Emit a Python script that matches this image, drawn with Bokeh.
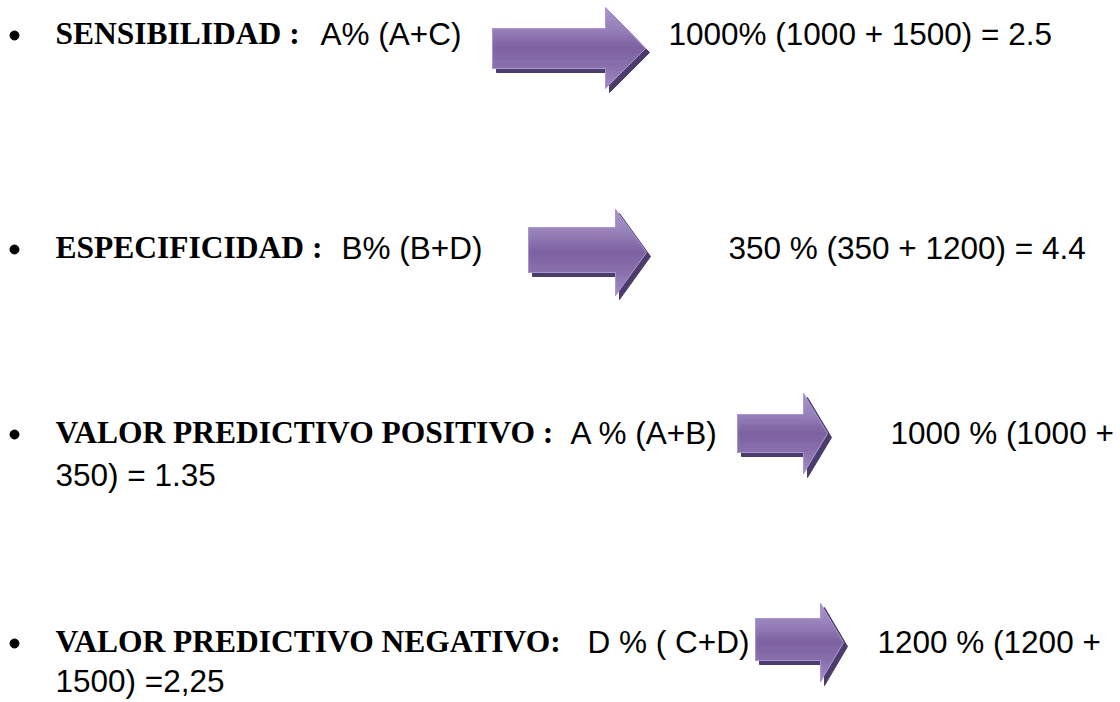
from bokeh.plotting import figure
from bokeh.models import Range1d, ColumnDataSource
from bokeh.core.properties import value
from bokeh.embed import file_html
from bokeh.resources import INLINE
import numpy as np

# ---- content ----
labels_bold = ["SENSIBILIDAD :", "ESPECIFICIDAD :",
               "VALOR PREDICTIVO POSITIVO :", "VALOR PREDICTIVO NEGATIVO:"]
formulas = ["A% (A+C)", "B% (B+D)", "A % (A+B)", "D % ( C+D)"]
results = ["1000% (1000 + 1500) = 2.5", "350 % (350 + 1200) = 4.4",
           "1000 % (1000 +", "1200 % (1200 +"]
continuations = ["", "", "350) = 1.35", "1500) =2,25"]

# ---- layout (page pixels) ----
row_baseline = [44, 258, 443, 652]
cont_baseline = [0, 0, 485, 691]
bullet_x = 14
label_x = 55
formula_x = [320, 341, 570, 587]
result_x = [668, 728, 890, 877]
MID = 11  # distance from baseline to text middle

arrow_shaft_left = [492, 528, 737, 755]
arrow_head_base = [605, 615, 803, 820]
arrow_tip_x = [645, 646, 827, 843]
arrow_shaft_top = [28, 227, 414, 618]
arrow_shaft_bottom = [68, 272, 452, 660]
arrow_head_top = [7, 209, 393, 603]
arrow_head_bottom = [88, 295, 473, 681]
arrow_tip_y = [48, 252, 433, 642]

FS = "31.5px"
SERIF = value("Liberation Serif")
SANS = value("Liberation Sans")

p = figure(width=1120, height=702, output_backend="svg", toolbar_location=None,
           x_range=Range1d(0, 1120), y_range=Range1d(702, 0),
           x_axis_location=None, y_axis_location=None, min_border=0)
p.grid.visible = False
p.outline_line_color = None
p.background_fill_color = "white"
p.border_fill_color = "white"


def hex2rgb(h):
    h = h.lstrip("#")
    return np.array([int(h[i:i + 2], 16) for i in (0, 2, 4)], dtype=float)


grad_pos = [0.0, 0.27, 0.5, 0.73, 1.0]
grad_col = [hex2rgb(c) for c in ["#a995ca", "#9882ba", "#7e62a2", "#8a71ad", "#a18cc3"]]


def grad(t):
    t = min(max(t, 0.0), 1.0)
    for i in range(len(grad_pos) - 1):
        if grad_pos[i] <= t <= grad_pos[i + 1]:
            f = (t - grad_pos[i]) / (grad_pos[i + 1] - grad_pos[i])
            c = grad_col[i] * (1 - f) + grad_col[i + 1] * f
            return "#%02x%02x%02x" % tuple(int(round(v)) for v in c)
    return "#7e62a2"


def outline(i, dx=0.0, dy=0.0):
    sl, hb, tx = arrow_shaft_left[i], arrow_head_base[i], arrow_tip_x[i]
    st, sb = arrow_shaft_top[i], arrow_shaft_bottom[i]
    ht, hbm, ty = arrow_head_top[i], arrow_head_bottom[i], arrow_tip_y[i]
    xs = [sl, hb, hb, tx, hb, hb, sl]
    ys = [st, st, ht, ty, hbm, sb, sb]
    return [x + dx for x in xs], [y + dy for y in ys]


# shadows
sh_xs, sh_ys = [], []
for i in range(4):
    xs, ys = outline(i, 4, 4)
    sh_xs.append(xs)
    sh_ys.append(ys)
p.patches(sh_xs, sh_ys, fill_color="#4b3c6b", line_color="#4b3c6b", line_width=1)

# gradient slices
sl_xs, sl_ys, sl_c = [], [], []
for i in range(4):
    sl, hb, tx = arrow_shaft_left[i], arrow_head_base[i], arrow_tip_x[i]
    st, sb = arrow_shaft_top[i], arrow_shaft_bottom[i]
    ht, hbm, ty = arrow_head_top[i], arrow_head_bottom[i], arrow_tip_y[i]
    levels = sorted(set(np.round(np.linspace(ht, hbm, 50), 3).tolist()) | {st, sb, ty})

    def right(y):
        if y <= ty:
            return hb + (tx - hb) * (y - ht) / (ty - ht)
        return hb + (tx - hb) * (hbm - y) / (hbm - ty)

    for a, b in zip(levels[:-1], levels[1:]):
        m = (a + b) / 2
        left = sl if st <= m <= sb else hb
        sl_xs.append([left, right(a), right(b), left])
        sl_ys.append([a, a, b, b])
        sl_c.append(grad((m - ht) / (hbm - ht)))
p.patches(sl_xs, sl_ys, fill_color=sl_c, line_color=sl_c, line_width=0.8)

# light outline
ol_xs, ol_ys = [], []
for i in range(4):
    xs, ys = outline(i)
    ol_xs.append(xs)
    ol_ys.append(ys)
p.patches(ol_xs, ol_ys, fill_color=None, line_color="#a995cf", line_width=1)

# bullets
p.scatter([bullet_x] * 4, [b - 9 for b in row_baseline], size=9,
          fill_color="black", line_color="black")

# texts
mid_rows = [b - MID for b in row_baseline]
src_bold = ColumnDataSource(dict(x=[label_x] * 4, y=mid_rows, t=labels_bold))
p.text("x", "y", text="t", source=src_bold, text_font=SERIF, text_font_style="bold",
       text_font_size=FS, text_color="black", text_baseline="middle")

src_f = ColumnDataSource(dict(x=formula_x, y=mid_rows, t=formulas))
p.text("x", "y", text="t", source=src_f, text_font=SANS, text_font_size=FS,
       text_color="black", text_baseline="middle")

src_r = ColumnDataSource(dict(x=result_x, y=mid_rows, t=results))
p.text("x", "y", text="t", source=src_r, text_font=SANS, text_font_size=FS,
       text_color="black", text_baseline="middle")

cont_idx = [i for i, c in enumerate(continuations) if c]
src_c = ColumnDataSource(dict(x=[label_x] * len(cont_idx),
                              y=[cont_baseline[i] - MID for i in cont_idx],
                              t=[continuations[i] for i in cont_idx]))
p.text("x", "y", text="t", source=src_c, text_font=SANS, text_font_size=FS,
       text_color="black", text_baseline="middle")

open("out.html", "w").write(file_html(p, INLINE))
